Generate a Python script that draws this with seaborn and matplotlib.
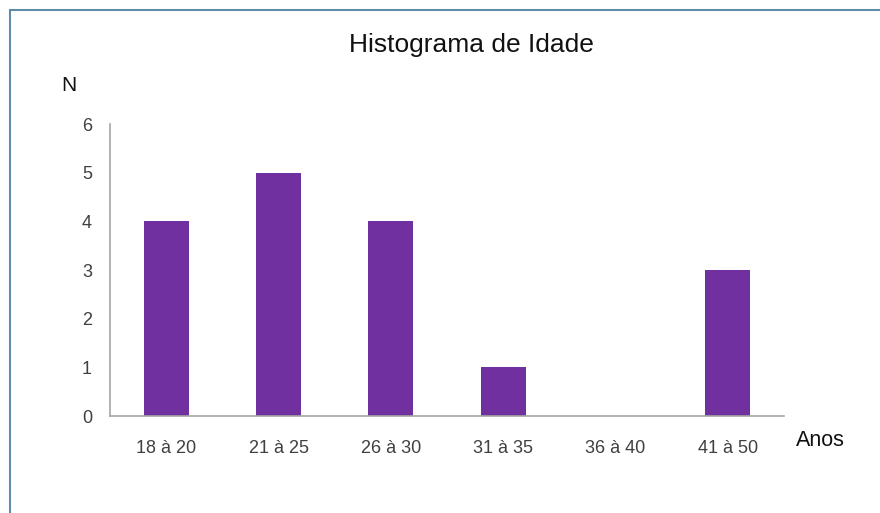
import pandas as pd
import matplotlib
matplotlib.use('Agg')
import matplotlib.pyplot as plt
import seaborn as sns
from matplotlib.lines import Line2D

faixas = ['18 à 20', '21 à 25', '26 à 30', '31 à 35', '36 à 40', '41 à 50']
contagem = [4, 5, 4, 1, 0, 3]
y_ticks = [0, 1, 2, 3, 4, 5, 6]

sns.set_style('white')
plt.rcParams['font.family'] = ['Liberation Sans', 'DejaVu Sans']

df = pd.DataFrame({'Faixa': faixas, 'N': contagem})

fig = plt.figure(figsize=(8.8, 5.13), dpi=100)
ax = fig.add_axes([0.125, 0.189, 0.766, 0.569])

sns.barplot(data=df, x='Faixa', y='N', order=faixas, color='#7030a0',
            width=0.4, saturation=1, linewidth=0, ax=ax)

ax.set_ylim(0, 6)
ax.set_yticks(y_ticks)
ax.set_xlabel('')
ax.set_ylabel('')
for side in ['top', 'right']:
    ax.spines[side].set_visible(False)
for side in ['left', 'bottom']:
    ax.spines[side].set_color('#a6a6a6')
    ax.spines[side].set_linewidth(1.2)
ax.tick_params(axis='both', length=0, labelsize=13, labelcolor='#404040')
ax.tick_params(axis='y', pad=13)
ax.tick_params(axis='x', pad=17)

fig.text(0.536, 0.912, 'Histograma de Idade', fontsize=19, ha='center', va='center', color='#111111')
fig.text(0.078, 0.834, 'N', fontsize=15, ha='center', va='center', color='#111111')
fig.text(0.904, 0.141, 'Anos', fontsize=15.5, ha='left', va='center', color='#111111')

# chart frame (top and left edges)
fig.add_artist(Line2D([0.011, 1.0], [0.980, 0.980], color='#5f8ca8', lw=1.5))
fig.add_artist(Line2D([0.011, 0.011], [0.0, 0.980], color='#5f8ca8', lw=1.5))

fig.savefig('out.png', dpi=100)
